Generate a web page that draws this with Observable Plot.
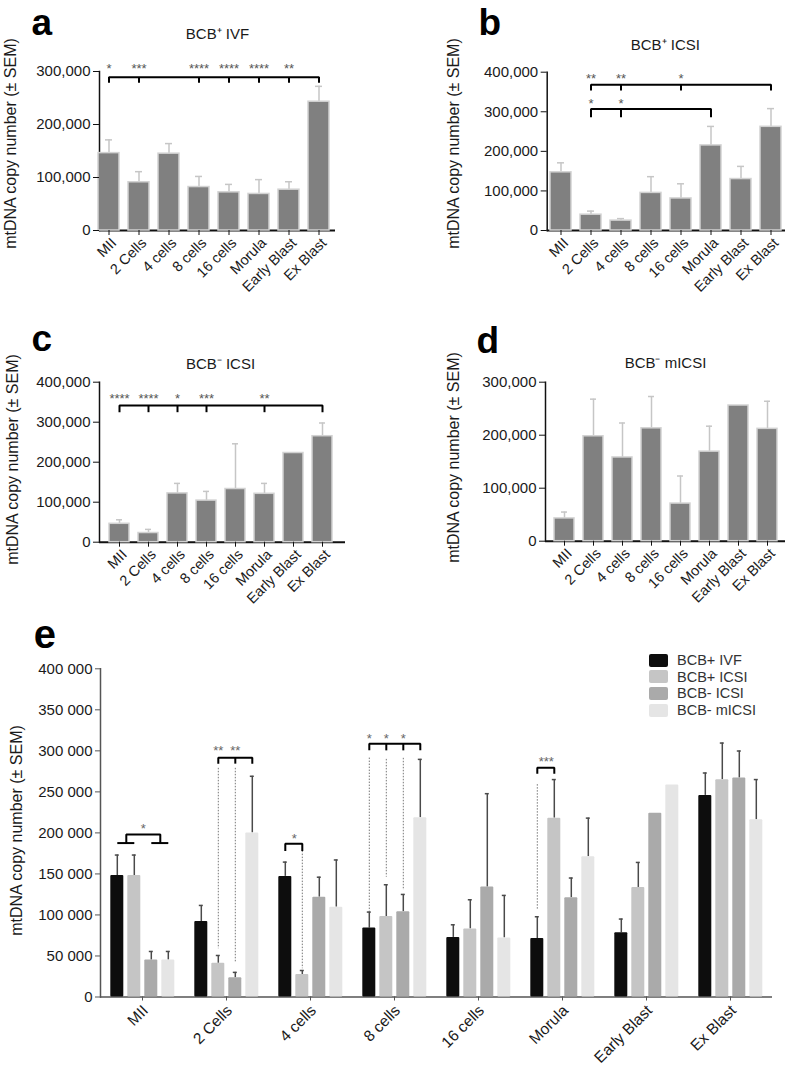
<!DOCTYPE html>
<html><head><meta charset="utf-8">
<script src="https://cdn.jsdelivr.net/npm/d3@7"></script>
<script src="https://cdn.jsdelivr.net/npm/@observablehq/plot@0.6"></script>
<style>
body{margin:0;background:#fff;}
#root{position:relative;width:787px;height:1073px;overflow:hidden;background:#fff;font-family:"Liberation Sans",Arial,sans-serif;}
.panel{position:absolute;}
.panel svg{overflow:visible;display:block;}
.leg{position:absolute;left:649px;top:652px;}
.leg .row{display:flex;align-items:center;height:16.6px;}
.leg .sw{width:19px;height:13px;border-radius:2px;margin-right:9px;}
.leg .lb{font-size:14.5px;color:#333;}
</style></head><body><div id="root"></div>
<script>
const FONT = '"Liberation Sans", Arial, sans-serif';
const YLABEL = "mtDNA copy number (± SEM)";
const stages = ["MII","2 Cells","4 cells","8 cells","16 cells","Morula","Early Blast","Ex Blast"];

// ---- Panel a: BCB+ IVF
const titleA = "BCB⁺ IVF";
const meanA = [146000, 91000, 145000, 82000, 72000, 69000, 77000, 243000];
const semA  = [25000, 20000, 19000, 20000, 15000, 27000, 15000, 29000];
const ticksA = [0, 100000, 200000, 300000];
const bracketsA = [{from:"MII", to:"Ex Blast", y:289000, drop:10000, ticks:["2 Cells","8 cells","16 cells","Morula","Early Blast"]}];
const starsA = [
  {stage:"MII", text:"*", y:297000}, {stage:"2 Cells", text:"***", y:297000},
  {stage:"8 cells", text:"****", y:297000}, {stage:"16 cells", text:"****", y:297000},
  {stage:"Morula", text:"****", y:297000}, {stage:"Early Blast", text:"**", y:297000}];

// ---- Panel b: BCB+ ICSI
const titleB = "BCB⁺ ICSI";
const meanB = [147000, 40000, 25000, 95000, 81000, 215000, 130000, 262000];
const semB  = [24000, 9000, 5000, 41000, 37000, 48000, 32000, 46000];
const ticksB = [0, 100000, 200000, 300000, 400000];
const bracketsB = [
  {from:"2 Cells", to:"Ex Blast", y:368000, drop:14500, ticks:["4 cells","16 cells"]},
  {from:"2 Cells", to:"Morula", y:307000, drop:21000, ticks:["4 cells"]}];
const starsB = [
  {stage:"2 Cells", text:"**", y:372700}, {stage:"4 cells", text:"**", y:372700},
  {stage:"16 cells", text:"*", y:372700},
  {stage:"2 Cells", text:"*", y:309600}, {stage:"4 cells", text:"*", y:309600}];

// ---- Panel c: BCB- ICSI
const titleC = "BCB⁻ ICSI";
const meanC = [46000, 23000, 122000, 104000, 133000, 121000, 223000, 265000];
const semC  = [10000, 9000, 25000, 23000, 113000, 26000, null, 33000];
const ticksC = [0, 100000, 200000, 300000, 400000];
const bracketsC = [{from:"MII", to:"Ex Blast", y:342000, drop:17000, ticks:["2 Cells","4 cells","8 cells","Morula"]}];
const starsC = [
  {stage:"MII", text:"****", y:348000}, {stage:"2 Cells", text:"****", y:348000},
  {stage:"4 cells", text:"*", y:348000}, {stage:"8 cells", text:"***", y:348000},
  {stage:"Morula", text:"**", y:348000}];

// ---- Panel d: BCB- mICSI
const titleD = "BCB⁻ mICSI";
const meanD = [43000, 198000, 158000, 213000, 71000, 169000, 256000, 212000];
const semD  = [12000, 70000, 65000, 60000, 52000, 48000, null, 52000];
const ticksD = [0, 100000, 200000, 300000];

// ---- Panel e: all groups
const series = ["BCB+ IVF", "BCB+ ICSI", "BCB- ICSI", "BCB- mICSI"];
const colorsE = ["#0d0d0d", "#c5c5c5", "#aaaaaa", "#e5e5e5"];
const meanIVF    = [148000, 92000, 147000, 84000, 72600, 71300, 78300, 245700];
const semIVF     = [25000, 19600, 17400, 19500, 15400, 26500, 16700, 27300];
const meanICSIp  = [148000, 41000, 27400, 98000, 83000, 218000, 133500, 264900];
const semICSIp   = [25000, 9600, 4900, 38800, 35500, 47000, 30500, 44600];
const meanICSIn  = [45000, 23400, 121700, 104000, 134000, 121000, 223800, 266900];
const semICSIn   = [10500, 6600, 24300, 21000, 113800, 24000, null, 32900];
const meanMICSI  = [45000, 200000, 109500, 218500, 72000, 171000, 258300, 216000];
const semMICSI   = [10500, 69000, 57500, 71100, 51800, 47000, null, 49000];
const ticksE = [0, 50000, 100000, 150000, 200000, 250000, 300000, 350000, 400000];
const bracketsE = [
  {stage:"MII", from:"BCB+ IVF", to:"BCB+ ICSI", y:187600, drop:0},
  {stage:"MII", from:"BCB- ICSI", to:"BCB- mICSI", y:187600, drop:0},
  {stage:"MII", from:"BCB+ IVF", to:"BCB- ICSI", y:198000, drop:10400, half:true},
  {stage:"2 Cells", from:"BCB+ ICSI", to:"BCB- mICSI", y:291700, drop:7300, ticks:["BCB- ICSI"]},
  {stage:"4 cells", from:"BCB+ IVF", to:"BCB+ ICSI", y:186800, drop:9000},
  {stage:"8 cells", from:"BCB+ IVF", to:"BCB- mICSI", y:308800, drop:8200, ticks:["BCB+ ICSI","BCB- ICSI"]},
  {stage:"Morula", from:"BCB+ IVF", to:"BCB+ ICSI", y:279500, drop:7300}];
const dottedE = [
  {stage:"2 Cells", series:"BCB+ ICSI", y1:278700, y2:58800},
  {stage:"2 Cells", series:"BCB- ICSI", y1:278700, y2:41200},
  {stage:"4 cells", series:"BCB+ ICSI", y1:177800, y2:34400},
  {stage:"8 cells", series:"BCB+ IVF", y1:291200, y2:104300},
  {stage:"8 cells", series:"BCB+ ICSI", y1:289600, y2:146000},
  {stage:"8 cells", series:"BCB- ICSI", y1:290900, y2:129900},
  {stage:"Morula", series:"BCB+ IVF", y1:258800, y2:105500}];
const starsE = [
  {stage:"MII", series:"BCB+ ICSI", half:true, text:"*", y:200000},
  {stage:"2 Cells", series:"BCB+ ICSI", text:"**", y:294900},
  {stage:"2 Cells", series:"BCB- ICSI", text:"**", y:294900},
  {stage:"4 cells", series:"BCB+ IVF", half:true, text:"*", y:188000},
  {stage:"8 cells", series:"BCB+ IVF", text:"*", y:309900},
  {stage:"8 cells", series:"BCB+ ICSI", text:"*", y:309900},
  {stage:"8 cells", series:"BCB- ICSI", text:"*", y:309900},
  {stage:"Morula", series:"BCB+ IVF", half:true, text:"***", y:281500}];

// ---------- helpers
function rowsOf(mean, sem) { return stages.map((s, i) => ({stage: s, mean: mean[i], sem: sem[i]})); }
function bracketPaths(brackets) {
  const pts = [];
  brackets.forEach((b, k) => {
    const base = {id: k + "m", stage: b.stage, half: !!b.half};
    pts.push({...base, x: b.from, y: b.y - b.drop}, {...base, x: b.from, y: b.y},
             {...base, x: b.to, y: b.y}, {...base, x: b.to, y: b.y - b.drop});
    (b.ticks || []).forEach((t, j) => {
      const tb = {id: k + "t" + j, stage: b.stage, half: !!b.half};
      pts.push({...tb, x: t, y: b.y}, {...tb, x: t, y: b.y - b.drop});
    });
  });
  return pts;
}
const root = document.getElementById("root");
function place(el, left, top) {
  const d = document.createElement("div"); d.className = "panel";
  d.style.left = left + "px"; d.style.top = top + "px"; d.appendChild(el); root.appendChild(d);
}

function smallPanel(c) {
  const rows = rowsOf(c.mean, c.sem);
  const withErr = rows.filter(d => d.sem != null);
  const pts = bracketPaths(c.brackets || []);
  return Plot.plot({
    width: c.width, height: c.height,
    marginLeft: c.ml, marginRight: c.mr, marginTop: c.mt, marginBottom: c.mb,
    style: `font-family:${FONT};background:transparent;color:#1a1a1a;overflow:visible;`,
    x: {domain: stages, range: c.xRange, paddingInner: 0.3, paddingOuter: 0.15},
    y: {domain: [0, c.yMax]},
    marks: [
      Plot.ruleY([0], {stroke: "#111", strokeWidth: 2}),
      Plot.frame({anchor: "left", stroke: "#111", strokeWidth: 1.5}),
      Plot.ruleX(withErr, {x: "stage", y1: "mean", y2: d => d.mean + d.sem, stroke: "#c6c6c6", strokeWidth: 1.5}),
      Plot.tickY(withErr, {x: "stage", y: d => d.mean + d.sem, stroke: "#c6c6c6", strokeWidth: 1.5, insetLeft: 7, insetRight: 7}),
      Plot.barY(rows, {x: "stage", y: "mean", fill: "#808080", stroke: "#d2d2d2", strokeWidth: 1.5}),
      Plot.axisY({ticks: c.yTicks, tickFormat: d3.format(","), tickSize: 6, tickPadding: 3, fontSize: 15, stroke: "#111", label: null}),
      Plot.axisX({tickSize: 5, tickFormat: () => "", stroke: "#111", label: null}),
      Plot.axisX({tickRotate: -45, tickSize: 0, tickPadding: 10, dx: 5, fontSize: 14.5, label: null}),
      Plot.line(pts, {x: "x", y: "y", z: "id", stroke: "#000", strokeWidth: 2, strokeLinejoin: "miter", strokeLinecap: "butt"}),
      Plot.text(c.stars || [], {x: "stage", y: "y", text: "text", fontSize: 13, fill: "#555", lineAnchor: "bottom"}),
      Plot.text([c.title], {frameAnchor: "top", textAnchor: "middle", dx: c.tdx, dy: c.tdy, fontSize: 15, lineAnchor: "bottom", fill: "#1a1a1a"}),
      Plot.text([c.letter], {frameAnchor: "top-left", textAnchor: "start", lineAnchor: "bottom", fontSize: 37, fontWeight: "bold", dx: c.ldx, dy: c.ldy, fill: "#000"}),
      Plot.text([YLABEL], {frameAnchor: "left", textAnchor: "middle", lineAnchor: "middle", rotate: -90, fontSize: 16, dx: c.ydx, dy: c.ydy, fill: "#1a1a1a"})
    ]
  });
}

place(smallPanel({mean: meanA, sem: semA, yMax: 300000, yTicks: ticksA, brackets: bracketsA, stars: starsA,
  title: titleA, letter: "a", width: 390, height: 305, ml: 99, mr: 55, mt: 71, mb: 75, xRange: [92.9, 334.9],
  tdx: 0, tdy: -33, ldx: -68, ldy: -37, ydx: -89, ydy: -7.5}), 0, 0);
place(smallPanel({mean: meanB, sem: semB, yMax: 400000, yTicks: ticksB, brackets: bracketsB, stars: starsB,
  title: titleB, letter: "b", width: 397, height: 305, ml: 156.7, mr: 2, mt: 71.7, mb: 75, xRange: [155, 395],
  tdx: -1, tdy: -21.7, ldx: -68.7, ldy: -37.2, ydx: -93.7, ydy: -7.8}), 390, 0);
place(smallPanel({mean: meanC, sem: semC, yMax: 400000, yTicks: ticksC, brackets: bracketsC, stars: starsC,
  title: titleC, letter: "c", width: 390, height: 300, ml: 99, mr: 45, mt: 76.7, mb: 63.3, xRange: [101.8, 339.9],
  tdx: -2, tdy: -13.7, ldx: -68, ldy: -31.7, ydx: -87, ydy: -2.7}), 0, 305);
place(smallPanel({mean: meanD, sem: semD, yMax: 300000, yTicks: ticksD,
  title: titleD, letter: "d", width: 397, height: 300, ml: 155, mr: 2, mt: 76.7, mb: 64.3, xRange: [156.1, 395],
  tdx: 0, tdy: -14.7, ldx: -69, ldy: -29.7, ydx: -92, ydy: -4.2}), 390, 305);

// ---------- panel e
const meansE = [meanIVF, meanICSIp, meanICSIn, meanMICSI];
const semsE = [semIVF, semICSIp, semICSIn, semMICSI];
const rowsE = series.flatMap((s, k) => stages.map((st, i) => ({stage: st, series: s, mean: meansE[k][i], sem: semsE[k][i]})));
const errE = rowsE.filter(d => d.sem != null);
const ptsE = bracketPaths(bracketsE);
const fmtE = d => d3.format(",")(d).replace(/,/g, " ");
const lineOpts = {fx: "stage", x: "x", y: "y", z: "id", stroke: "#000", strokeWidth: 2, strokeLinejoin: "miter", strokeLinecap: "butt"};
const starOpts = {fx: "stage", x: "series", y: "y", text: "text", fontSize: 13, fill: "#666", lineAnchor: "bottom"};
const plotE = Plot.plot({
  width: 787, height: 468, marginLeft: 97.7, marginRight: 13, marginTop: 63.3, marginBottom: 76.5,
  style: `font-family:${FONT};background:transparent;color:#1a1a1a;overflow:visible;`,
  fx: {domain: stages, padding: 0, label: null},
  x: {domain: series, paddingInner: 0.222, paddingOuter: 0.458, axis: null},
  y: {domain: [0, 400000]},
  color: {domain: series, range: colorsE},
  marks: [
    Plot.ruleY([0], {stroke: "#555", strokeWidth: 1.5}),
    Plot.frame({anchor: "left", facetAnchor: "left", stroke: "#555", strokeWidth: 1.5}),
    Plot.ruleX(errE, {fx: "stage", x: "series", y1: "mean", y2: d => d.mean + d.sem, stroke: "#4a4a4a", strokeWidth: 1.5}),
    Plot.tickY(errE, {fx: "stage", x: "series", y: d => d.mean + d.sem, stroke: "#4a4a4a", strokeWidth: 1.5, insetLeft: 4.5, insetRight: 4.5}),
    Plot.barY(rowsE, {fx: "stage", x: "series", y: "mean", fill: "series", rx: 1}),
    Plot.ruleX(dottedE, {fx: "stage", x: "series", y1: "y1", y2: "y2", stroke: "#777", strokeWidth: 1, strokeDasharray: "1.5,1.5"}),
    Plot.line(ptsE.filter(d => !d.half), lineOpts),
    Plot.line(ptsE.filter(d => d.half), {...lineOpts, dx: 9}),
    Plot.text(starsE.filter(d => !d.half), starOpts),
    Plot.text(starsE.filter(d => d.half), {...starOpts, dx: 9}),
    Plot.axisY({ticks: ticksE, tickFormat: fmtE, tickSize: 5, tickPadding: 3, fontSize: 15, stroke: "#555", label: null}),
    Plot.axisFx({anchor: "bottom", tickSize: 4, tickFormat: () => "", stroke: "#555", label: null}),
    Plot.axisFx({anchor: "bottom", tickRotate: -45, tickSize: 0, tickPadding: 11, dx: 3, fontSize: 15.5, label: null}),
    Plot.text(["e"], {fx: () => "MII", frameAnchor: "top-left", textAnchor: "start", lineAnchor: "bottom", fontSize: 40, fontWeight: "bold", dx: -66.7, dy: -21.3, fill: "#000"}),
    Plot.text([YLABEL], {fx: () => "MII", frameAnchor: "left", textAnchor: "middle", lineAnchor: "middle", rotate: -90, fontSize: 16, dx: -83.7, dy: -2.4, fill: "#1a1a1a"})
  ]
});
place(plotE, 0, 605);

// legend for panel e
const leg = document.createElement("div"); leg.className = "leg";
series.forEach((s, i) => {
  const r = document.createElement("div"); r.className = "row";
  const sw = document.createElement("div"); sw.className = "sw"; sw.style.background = colorsE[i];
  const lb = document.createElement("div"); lb.className = "lb"; lb.textContent = s;
  r.appendChild(sw); r.appendChild(lb); leg.appendChild(r);
});
root.appendChild(leg);
</script></body></html>
